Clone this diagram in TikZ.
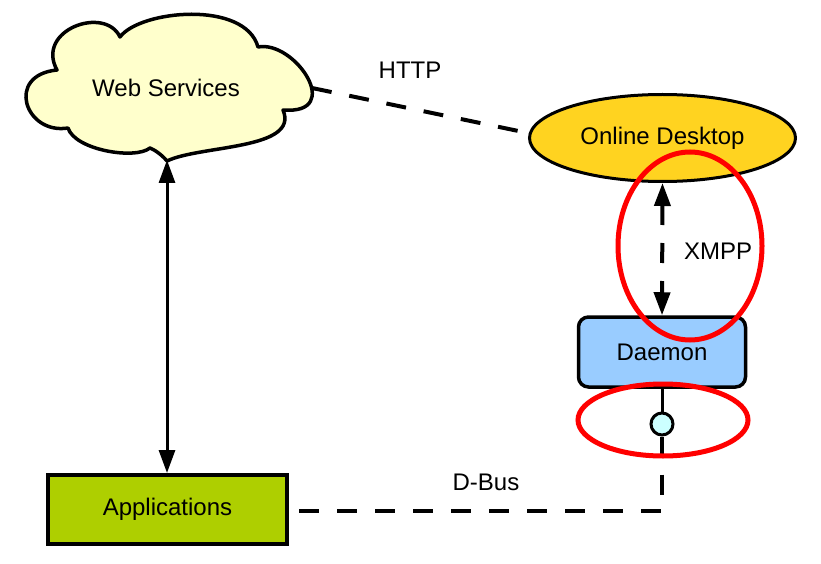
\documentclass[tikz,border=0pt]{standalone}
\usepackage{fontspec}
\setmainfont{Liberation Sans}
\usetikzlibrary{shapes.geometric,arrows.meta}
\definecolor{cloudfill}{HTML}{FFFFCC}
\definecolor{odfill}{HTML}{FFD320}
\definecolor{daemonfill}{HTML}{99CCFF}
\definecolor{appfill}{HTML}{AECF00}
\definecolor{portfill}{HTML}{CCFFFF}
\tikzset{
  lbl/.style={font=\fontsize{24}{28}\selectfont, inner sep=0pt},
  conn/.style={line width=4pt, dash pattern=on 20pt off 18pt},
  mark2/.style={draw=red, line width=5pt},
}
\begin{document}
\begin{tikzpicture}[x=1pt,y=-1pt]
\useasboundingbox (0,0) rectangle (821,564);
% cloud
\draw[line width=3.5pt, fill=cloudfill, line join=round]
  (57,70) .. controls (35,30) and (105,5) .. (120,37)
  .. controls (140,10) and (245,0) .. (258,47)
  .. controls (295,40) and (345,115) .. (283,110)
  .. controls (300,150) and (200,145) .. (167,161)
  .. controls (162,155) and (155,150) .. (150,148)
  .. controls (135,160) and (75,150) .. (68,128)
  .. controls (25,135) and (5,75) .. (57,70) -- cycle;
\node[lbl] (ws) at (166,88) {Web Services};
\coordinate (wsE) at (312,88);
\coordinate (wsS) at (167,160);
% online desktop
\node[ellipse, draw, line width=3pt, fill=odfill, minimum width=266pt, minimum height=87pt, inner sep=0pt, lbl] (od) at (662.5,138) {Online Desktop};
% daemon
\node[rectangle, rounded corners=10pt, draw, line width=3.5pt, fill=daemonfill, minimum width=167pt, minimum height=70pt, lbl] (dm) at (662,352) {Daemon};
% port
\node[circle, draw, line width=3pt, fill=portfill, minimum size=22pt, inner sep=0pt] (port) at (662,424) {};
% applications
\node[rectangle, draw, line width=4pt, fill=appfill, minimum width=239pt, minimum height=69pt, lbl] (apps) at (167.5,509.5) {Applications};
% connectors
\draw[conn] (wsE) -- (od.west |- 0,133);
\node[lbl] at (410,70) {HTTP};
\draw[line width=3pt, {Triangle[length=23pt,width=16pt]}-{Triangle[length=23pt,width=16pt]}] (wsS) -- (apps.north -| wsS);
\draw[conn, {Triangle[length=23pt,width=16pt]}-{Triangle[length=23pt,width=16pt]}] (od.south) -- (dm.north);
\node[lbl] at (718,251) {XMPP};
\draw[line width=3pt] (dm.south) -- (port.north);
\coordinate (bend) at (662,511);
\draw[conn] (port.south) -- (bend) -- (apps.east |- bend);
\node[lbl] at (486,482) {D-Bus};
% red marks
\draw[mark2] (690,246) ellipse [x radius=72pt, y radius=94pt];
\draw[mark2] (663,420) ellipse [x radius=85pt, y radius=36pt];
\end{tikzpicture}
\end{document}
